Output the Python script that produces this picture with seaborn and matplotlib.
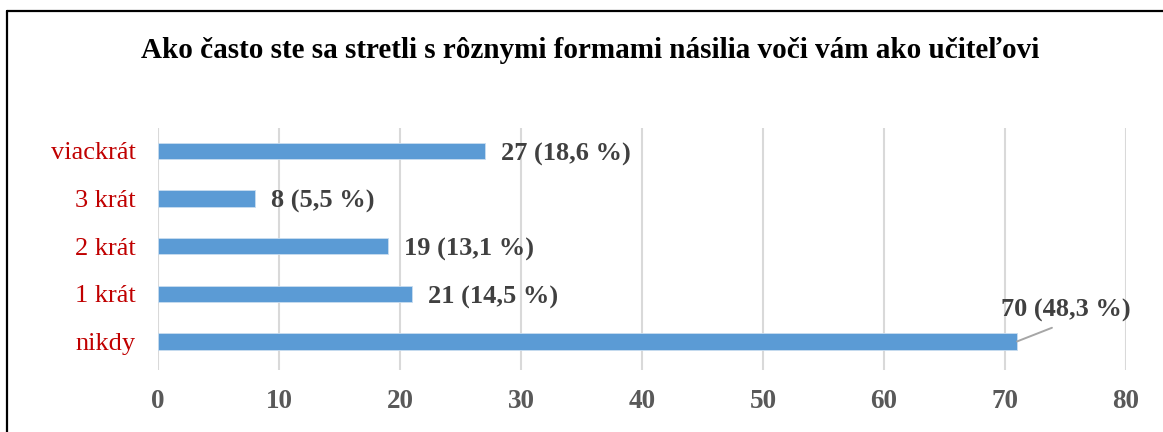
import matplotlib
matplotlib.use("Agg")
import matplotlib.pyplot as plt
import seaborn as sns
from matplotlib.lines import Line2D

# Data
categories = ["viackrát", "3 krát", "2 krát", "1 krát", "nikdy"]
counts = [27, 8, 19, 21, 71]
value_labels = ["27 (18,6 %)", "8 (5,5 %)", "19 (13,1 %)", "21 (14,5 %)", "70 (48,3 %)"]
x_ticks = [0, 10, 20, 30, 40, 50, 60, 70, 80]
title = "Ako často ste sa stretli s rôznymi formami násilia voči vám ako učiteľovi"

sns.set_theme(style="white")
plt.rcParams['font.family'] = ['Liberation Serif', 'DejaVu Serif']

fig = plt.figure(figsize=(11.63, 4.32), dpi=100)
ax = fig.add_axes([158 / 1163, 62 / 432, 968 / 1163, 242 / 432])

sns.barplot(x=counts, y=categories, color="#5B9BD5", width=0.34,
            edgecolor="#C9DDF0", linewidth=0.6, saturation=1, ax=ax, zorder=3)

ax.set_xlim(0, 80)
ax.set_ylim(4.6, -0.48)
ax.set_xticks(x_ticks)
ax.xaxis.grid(True, color="#D9D9D9", linewidth=1.5, zorder=0)
ax.yaxis.grid(False)
for s in ax.spines.values():
    s.set_visible(False)
ax.tick_params(axis="x", length=0, pad=14, labelsize=19.5, labelcolor="#595959")
ax.tick_params(axis="y", length=0, pad=16, labelsize=19, labelcolor="#C00000")
for lbl in ax.get_xticklabels():
    lbl.set_fontweight("bold")
ax.set_xlabel("")
ax.set_ylabel("")

# data labels
for i, (v, txt) in enumerate(zip(counts, value_labels)):
    if i == len(counts) - 1:
        ax.annotate(txt, xy=(v, i), xytext=(75.0, i - 0.64),
                    ha="center", va="center", fontsize=19, fontweight="bold",
                    color="#404040",
                    arrowprops=dict(arrowstyle="-", color="#A6A6A6", lw=1.4,
                                    relpos=(0.5, 0.0), shrinkA=4, shrinkB=0))
    else:
        ax.text(v + 1.35, i + 0.07, txt, ha="left", va="center", fontsize=19,
                fontweight="bold", color="#404040")

fig.text(0.507, 1 - 50 / 432, title, ha="center", va="center",
         fontsize=21, fontweight="bold", color="black")

# outer frame (top and left edges)
fig.add_artist(Line2D([6.5 / 1163, 1], [1 - 10.5 / 432, 1 - 10.5 / 432],
                      transform=fig.transFigure, color="black", lw=1.6))
fig.add_artist(Line2D([6.5 / 1163, 6.5 / 1163], [0, 1 - 10.5 / 432],
                      transform=fig.transFigure, color="black", lw=1.6))

fig.savefig("out.png", dpi=100)
